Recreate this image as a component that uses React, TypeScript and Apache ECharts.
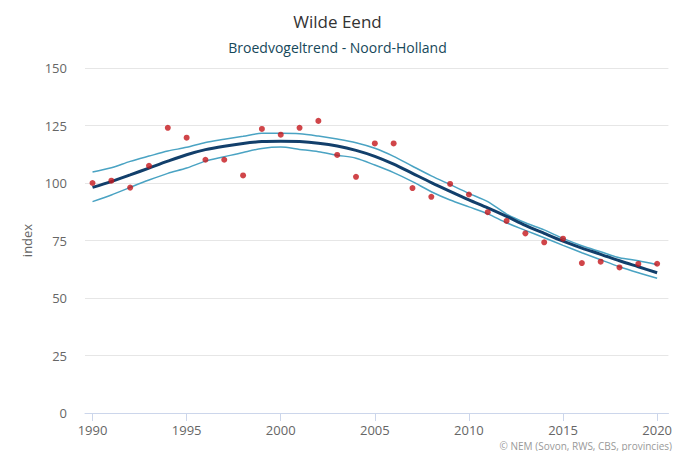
import React, { useEffect, useRef } from "react";
import * as echarts from "echarts";

const years: number[] = Array.from({ length: 31 }, (_, i) => 1990 + i);
const observed: number[] = [100, 101, 98, 107.5, 124, 119.7, 110.1, 110.1, 103.3, 123.5, 121, 124, 127, 112.2, 102.7, 117.2, 117.2, 97.8, 94, 99.6, 95, 87.3, 83.5, 78.1, 74.2, 75.8, 65.2, 65.8, 63.3, 64.8, 64.9];
const trend: number[] = [98.1, 100.6, 103.5, 106.5, 109.5, 112.3, 114.5, 116, 117.2, 118, 118.2, 118, 117.3, 116.1, 114.2, 111.6, 108.2, 104.2, 100.2, 96.4, 92.7, 89.2, 85.5, 81.6, 78.1, 74.7, 71.7, 69, 66.2, 63.6, 61];
const upper: number[] = [104.8, 106.6, 109.4, 111.7, 113.9, 115.5, 117.6, 119, 120.3, 121.6, 121.6, 121.4, 120.4, 119.1, 117.5, 115.1, 111.6, 107.3, 103.1, 99.3, 95.5, 91.9, 86.5, 82.7, 79.6, 75.9, 72.7, 70.1, 67.5, 66.2, 64.5];
const lower: number[] = [91.9, 94.8, 98.1, 101.3, 104.2, 106.5, 109.5, 111.4, 113.3, 115, 115.6, 114.6, 113.6, 112.1, 110.8, 107.8, 104.5, 100.6, 96.2, 92.6, 89.6, 86.6, 82.7, 79.4, 76.2, 72.9, 69.7, 66.6, 63.6, 61, 58.6];
const xTicks: number[] = [1990, 1995, 2000, 2005, 2010, 2015, 2020];

const title = "Wilde Eend";
const subtitle = "Broedvogeltrend - Noord-Holland";
const credit = "© NEM (Sovon, RWS, CBS, provincies)";
const FONT = "'Open Sans', sans-serif";

const pairs = (vals: number[]) => years.map((y, i) => [y, vals[i]]);

export default function App() {
  const ref = useRef<HTMLDivElement>(null);
  useEffect(() => {
    if (!ref.current) return;
    const chart = echarts.init(ref.current, undefined, { renderer: "svg" });
    const bandStyle = { color: "#4aa3c3", width: 1.5 };
    chart.setOption({
      animation: false,
      backgroundColor: "#ffffff",
      textStyle: { fontFamily: FONT },
      title: [
        {
          text: title,
          left: "center",
          top: 8,
          textStyle: { fontFamily: FONT, fontSize: 17, fontWeight: "normal", color: "#333333" },
        },
        {
          text: subtitle,
          left: "center",
          top: 35,
          textStyle: { fontFamily: FONT, fontSize: 14, fontWeight: "normal", color: "#16485a" },
        },
        {
          text: credit,
          right: 3,
          top: 440,
          padding: 0,
          textStyle: { fontFamily: FONT, fontSize: 10, lineHeight: 11, fontWeight: "normal", color: "#999999" },
        },
      ],
      grid: { left: 85, right: 3, top: 68, bottom: 38 },
      xAxis: {
        type: "value",
        min: 1989.6,
        max: 2020.6,
        splitLine: { show: false },
        axisLine: { show: true, lineStyle: { color: "#ccd6eb", width: 1 } },
        axisTick: { show: true, customValues: xTicks, length: 8, lineStyle: { color: "#ccd6eb" } },
        axisLabel: {
          customValues: xTicks,
          color: "#666666",
          fontSize: 13,
          lineHeight: 14,
          fontFamily: FONT,
          margin: 10,
          formatter: (v: number) => String(v),
        },
      },
      yAxis: {
        type: "value",
        min: 0,
        max: 150,
        interval: 25,
        name: "index",
        nameLocation: "middle",
        nameGap: 52,
        nameTextStyle: { color: "#666666", fontSize: 13, fontFamily: FONT },
        axisLine: { show: false },
        axisTick: { show: false },
        axisLabel: { color: "#666666", fontSize: 13, fontFamily: FONT, margin: 18 },
        splitLine: { lineStyle: { color: "#e6e6e6", width: 1 } },
      },
      series: [
        {
          type: "line",
          data: pairs(upper),
          smooth: 0.3,
          symbol: "none",
          lineStyle: bandStyle,
          z: 2,
        },
        {
          type: "line",
          data: pairs(lower),
          smooth: 0.3,
          symbol: "none",
          lineStyle: bandStyle,
          z: 2,
        },
        {
          type: "line",
          data: pairs(trend),
          smooth: 0.3,
          symbol: "none",
          lineStyle: { color: "#123f6b", width: 3 },
          z: 3,
        },
        {
          type: "scatter",
          data: pairs(observed),
          symbol: "circle",
          symbolSize: 6,
          itemStyle: { color: "#c4161c" },
          z: 4,
        },
      ],
    });
    return () => chart.dispose();
  }, []);
  return <div ref={ref} style={{ width: 675, height: 451, position: "absolute", left: 0, top: 0 }} />;
}
